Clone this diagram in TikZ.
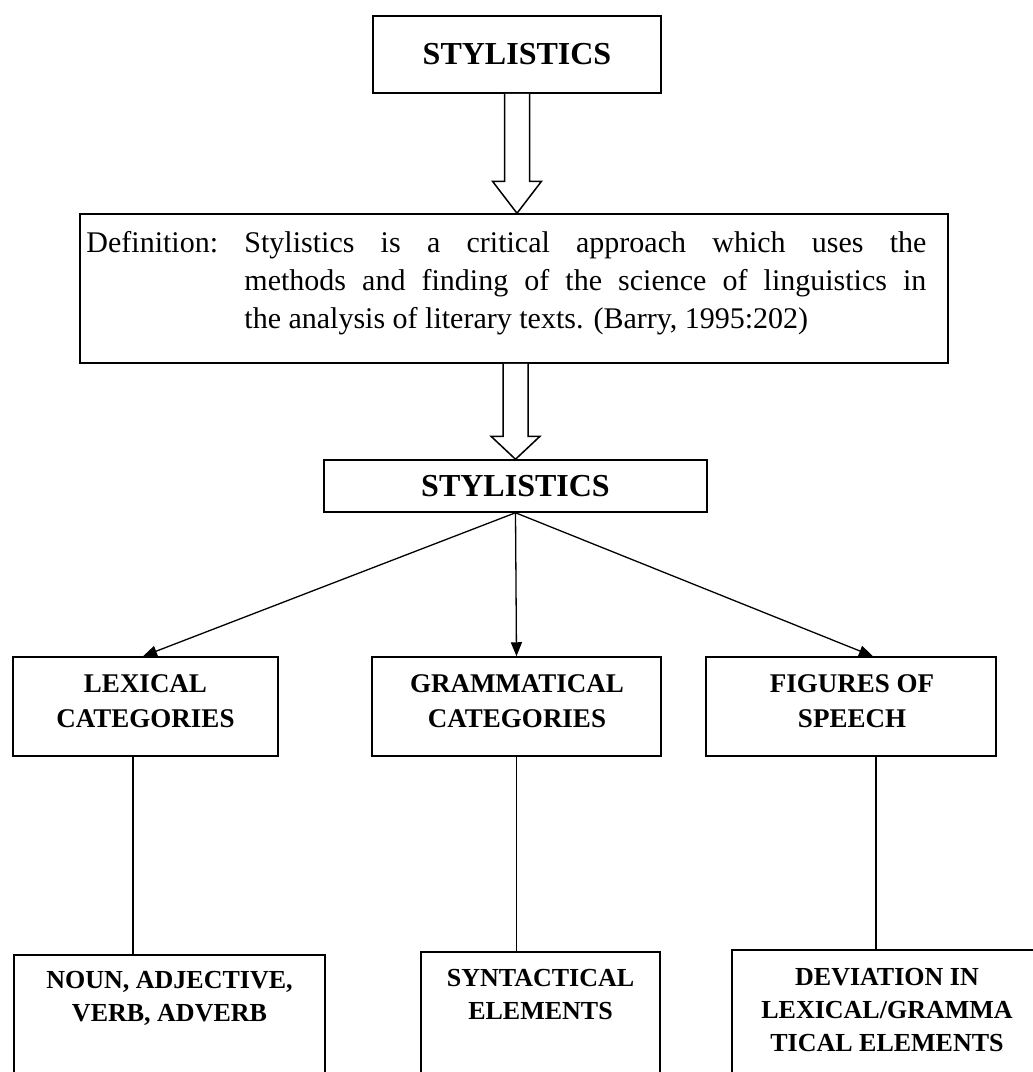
\documentclass[tikz,border=0pt]{standalone}
\usepackage{fontspec}
\setmainfont{Liberation Serif}
\usetikzlibrary{calc,arrows.meta}
\begin{document}
\begin{tikzpicture}[x=1pt,y=-1pt,
  box/.style={draw,line width=1.5pt,rectangle,inner sep=0pt},
  lbl/.style={inner sep=0pt,align=center,font=\bfseries\fontsize{27}{35}\selectfont},
  lbltwo/.style={inner sep=0pt,align=center,font=\bfseries\fontsize{26}{33}\selectfont},
  titlefont/.style={font=\bfseries\fontsize{32}{38}\selectfont},
  conn/.style={line width=1.3pt},
  arr/.style={conn,-{Triangle[length=14pt,width=11pt]}},
  fat/.style={line width=1.5pt,fill=white,line join=miter}]
\useasboundingbox (0,0) rectangle (1033,1072);
\fill[white] (0,0) rectangle (1033,1072);
\begin{scope}
\clip (0,0) rectangle (1033,1072);
% boxes
\node[box,minimum width=288pt,minimum height=77pt,titlefont] (top) at (517,54.5) {STYLISTICS};
\node[box,minimum width=868pt,minimum height=149pt] (def) at (514,288.5) {};
\node[anchor=base west,inner sep=0pt,font=\fontsize{30}{38}\selectfont] (deftext) at ($(def.north west)+(7,39)$)
  {\begin{tabular}[t]{@{}p{158pt}@{}p{682pt}@{}}
   Definition: & Stylistics is a critical approach which uses the\linebreak
   methods and finding of the science of linguistics in\linebreak
   the analysis of literary texts. (Barry, 1995:202)
   \end{tabular}};
\node[box,minimum width=383pt,minimum height=52pt,titlefont] (sty) at (515.5,486) {STYLISTICS};

\node[box,minimum width=265pt,minimum height=99pt] (lex) at (145.5,706.5) {};
\node[box,minimum width=289pt,minimum height=99pt] (gram) at (516.5,706.5) {};
\node[box,minimum width=290pt,minimum height=99pt] (fig) at (851,706.5) {};
\node[lbl,anchor=north] (lext) at ($(lex.north)+(0,18)$) {LEXICAL\\CATEGORIES};
\node[lbl,anchor=north] (gramt) at ($(gram.north)+(0.5,18)$) {GRAMMATICAL\\CATEGORIES};
\node[lbl,anchor=north] (figt) at ($(fig.north)+(1,18)$) {FIGURES OF\\SPEECH};

\node[box,minimum width=311pt,minimum height=145pt] (noun) at (169.5,1027.5) {};
\node[box,minimum width=239pt,minimum height=148pt] (syn) at (540.5,1026) {};
\node[box,minimum width=313pt,minimum height=150pt] (dev) at (888.5,1025) {};
\node[lbltwo,anchor=north] (nount) at ($(noun.north)+(0,17)$) {NOUN, ADJECTIVE,\\VERB, ADVERB};
\node[lbltwo,anchor=north] (synt) at ($(syn.north)+(0,17.5)$) {SYNTACTICAL\\ELEMENTS};
\node[lbltwo,anchor=north] (devt) at ($(dev.north)+(-1.5,19)$) {DEVIATION IN\\LEXICAL/GRAMMA\\TICAL ELEMENTS};

% hollow arrows
\coordinate (a1) at (top.south |- def.north);
\draw[fat] ($(top.south)+(-12.5,0)$) -- ($(a1)+(-12.5,-32)$) -- ($(a1)+(-24.5,-32)$) -- (a1)
  -- ($(a1)+(24.5,-32)$) -- ($(a1)+(12.5,-32)$) -- ($(top.south)+(12.5,0)$);
\coordinate (b0) at (def.south -| sty.north);
\draw[fat] ($(b0)+(-12.5,0)$) -- ($(sty.north)+(-12.5,-23)$) -- ($(sty.north)+(-24.5,-23)$) -- (sty.north)
  -- ($(sty.north)+(24.5,-23)$) -- ($(sty.north)+(12.5,-23)$) -- ($(b0)+(12.5,0)$);

% branch arrows
\draw[arr] (sty.south) -- ($(lex.north)+(-2.5,0)$);
\draw[arr] (sty.south) -- (gram.north);
\draw[arr] (sty.south) -- ($(fig.north)+(22,0)$);

% vertical lines
\coordinate (l1) at ($(lex.south)+(-12.5,0)$);
\draw[conn] (l1) -- (l1 |- noun.north);
\coordinate (l2) at (gram.south);
\draw[conn] (l2) -- (l2 |- syn.north);
\coordinate (l3) at ($(fig.south)+(25,0)$);
\draw[conn] (l3) -- (l3 |- dev.north);
\end{scope}
\end{tikzpicture}
\end{document}
